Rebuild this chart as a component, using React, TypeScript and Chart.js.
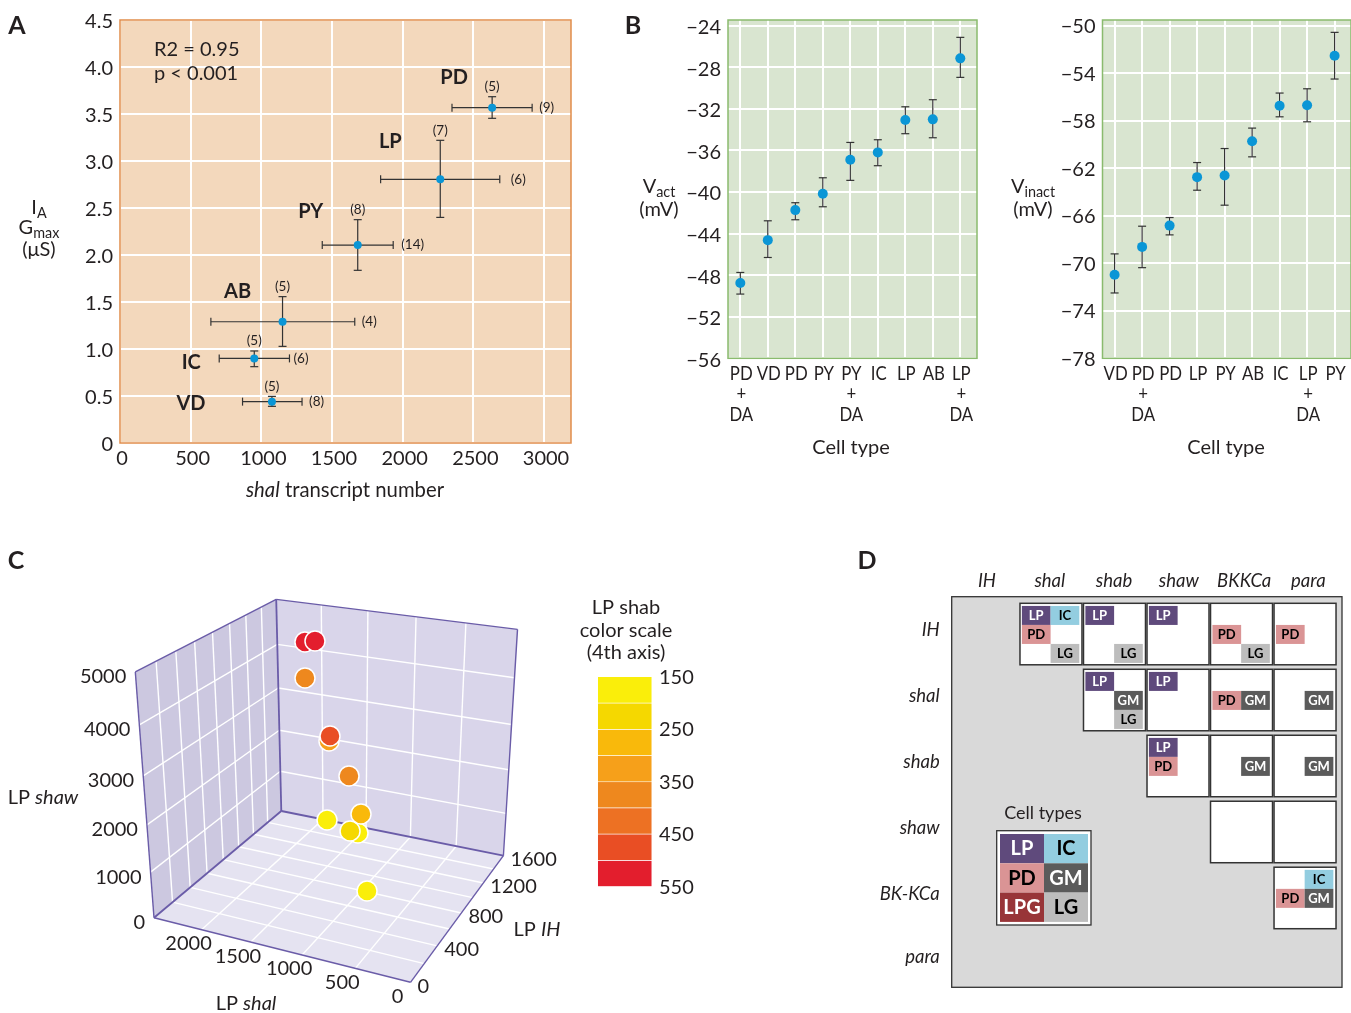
import React, { useEffect, useRef } from 'react';
import Chart from 'chart.js/auto';

const FONT = 'Lato';
const INK = '#231f20';

// panel A
const gmaxNames = ['PD', 'LP', 'PY', 'AB', 'IC', 'VD'];
const shalCount = [2633, 2266, 1682, 1150, 950, 1075];
const shalLow = [2349, 1844, 1431, 643, 702, 867];
const shalHigh = [2916, 2687, 1933, 1661, 1199, 1288];
const gmax = [3.567, 2.805, 2.106, 1.29, 0.9, 0.44];
const gmaxLow = [3.454, 2.4, 1.837, 1.028, 0.812, 0.39];
const gmaxHigh = [3.684, 3.22, 2.376, 1.557, 0.979, 0.496];
const nGmax = ['(5)', '(7)', '(8)', '(5)', '(5)', '(5)'];
const nShal = ['(9)', '(6)', '(14)', '(4)', '(6)', '(8)'];
const shalTicks = [0, 500, 1000, 1500, 2000, 2500, 3000];
const gmaxTicks = [0, 0.5, 1, 1.5, 2, 2.5, 3, 3.5, 4, 4.5];

// panel B
const vactCells = [['PD', '+', 'DA'], ['VD'], ['PD'], ['PY'], ['PY', '+', 'DA'], ['IC'], ['LP'], ['AB'], ['LP', '+', 'DA']];
const vact = [-48.76, -44.63, -41.74, -40.17, -36.9, -36.19, -33.08, -33.01, -27.14];
const vactHigh = [-47.74, -42.77, -41.03, -38.63, -35.23, -34.97, -31.8, -31.12, -25.12];
const vactLow = [-49.82, -46.3, -42.67, -41.42, -38.88, -37.47, -34.39, -34.78, -28.97];
const vactTicks = [-56, -52, -48, -44, -40, -36, -32, -28, -24];

const vinactCells = [['VD'], ['PD', '+', 'DA'], ['PD'], ['LP'], ['PY'], ['AB'], ['IC'], ['LP', '+', 'DA'], ['PY']];
const vinact = [-70.96, -68.62, -66.83, -62.75, -62.61, -59.72, -56.74, -56.69, -52.53];
const vinactHigh = [-69.21, -66.88, -66.15, -61.52, -60.34, -58.62, -55.67, -55.31, -50.56];
const vinactLow = [-72.5, -70.37, -67.61, -63.85, -65.11, -61.04, -57.67, -58.09, -54.49];
const vinactTicks = [-78, -74, -70, -66, -62, -58, -54, -50];

// panel C
const lpShal = [2060, 1889, 2065, 1567, 1556, 1243, 1259, 1344, 1228, 1833, 832];
const lpIH = [1440, 1360, 1440, 1120, 1120, 960, 1120, 1120, 1120, 1440, 640];
const lpShaw = [4325, 4468, 3531, 2662, 2774, 2219, 703, 711, 1155, 290, 343];
const lpShab = [525, 525, 375, 325, 475, 375, 175, 225, 275, 160, 170];
const shalGrid = [500, 1000, 1500, 2000];
const ihGrid = [200, 400, 600, 800, 1000, 1200, 1400];
const shawGrid = [1000, 2000, 3000, 4000];
const shalLabels = [0, 500, 1000, 1500, 2000];
const ihLabels = [0, 400, 800, 1200, 1600];
const shawLabels = [0, 1000, 2000, 3000, 4000, 5000];
const shabSteps = [150, 200, 250, 300, 350, 400, 450, 500, 550];
const shabColors = ['#faee0a', '#f5d800', '#f9b90b', '#f6a01a', '#ee881e', '#ed7123', '#e94e24', '#e31e2d'];
const shabTicks = [150, 250, 350, 450, 550];

// panel D
const channelsX = ['IH', 'shal', 'shab', 'shaw', 'BKKCa', 'para'];
const channelsY = ['IH', 'shal', 'shab', 'shaw', 'BK-KCa', 'para'];
const channelXTicks = [0.48, 1.47, 2.48, 3.5, 4.53, 5.54];
const channelYTicks = [0.41, 1.41, 2.4, 3.4, 4.4, 5.36];
const pairBoxes = [
    [1, 0], [2, 0], [3, 0], [4, 0], [5, 0],
    [2, 1], [3, 1], [4, 1], [5, 1],
    [3, 2], [4, 2], [5, 2],
    [4, 3], [5, 3],
    [5, 4],
];
// column, row, slot across, slot down, cell type
const pairTags: [number, number, number, number, string][] = [
    [1, 0, 0, 0, 'LP'], [1, 0, 1, 0, 'IC'], [1, 0, 0, 1, 'PD'], [1, 0, 1, 2, 'LG'],
    [2, 0, 0, 0, 'LP'], [2, 0, 1, 2, 'LG'],
    [3, 0, 0, 0, 'LP'],
    [4, 0, 0, 1, 'PD'], [4, 0, 1, 2, 'LG'],
    [5, 0, 0, 1, 'PD'],
    [2, 1, 0, 0, 'LP'], [2, 1, 1, 1, 'GM'], [2, 1, 1, 2, 'LG'],
    [3, 1, 0, 0, 'LP'],
    [4, 1, 0, 1, 'PD'], [4, 1, 1, 1, 'GM'],
    [5, 1, 1, 1, 'GM'],
    [3, 2, 0, 0, 'LP'], [3, 2, 0, 1, 'PD'],
    [4, 2, 1, 1, 'GM'],
    [5, 2, 1, 1, 'GM'],
    [5, 4, 1, 0, 'IC'], [5, 4, 0, 1, 'PD'], [5, 4, 1, 1, 'GM'],
];
const legendTypes = [['LP', 'IC'], ['PD', 'GM'], ['LPG', 'LG']];
const typeFill: Record<string, string> = { LP: '#5f4a7c', IC: '#93cde0', PD: '#da9495', GM: '#5b5b5b', LPG: '#983538', LG: '#bdbdbd' };
const typeInk: Record<string, string> = { LP: '#fff', IC: '#000', PD: '#000', GM: '#fff', LPG: '#fff', LG: '#000' };

type Run = { t: string; italic?: boolean; bold?: boolean; sub?: boolean };

// mixed italic / subscript labels, which the axis titles of the library cannot do
function drawRuns(ctx: CanvasRenderingContext2D, runs: Run[], x: number, y: number, size: number, align = 'center', color = INK) {
    const fontOf = (r: Run) => `${r.italic ? 'italic ' : ''}${r.bold ? '700 ' : ''}${r.sub ? size * 0.72 : size}px ${FONT}`;
    let total = 0;
    runs.forEach((r) => {
        ctx.font = fontOf(r);
        total += ctx.measureText(r.t).width;
    });
    let cx = align === 'center' ? x - total / 2 : align === 'right' ? x - total : x;
    ctx.textAlign = 'left';
    ctx.textBaseline = 'middle';
    ctx.fillStyle = color;
    runs.forEach((r) => {
        ctx.font = fontOf(r);
        ctx.fillText(r.t, cx, (r.sub ? y + size * 0.28 : y) + 1);
        cx += ctx.measureText(r.t).width;
    });
}

// draw in page coordinates, whatever canvas the panel sits on
const pageLabels = (left: number, top: number, draw: (ctx: CanvasRenderingContext2D) => void) => ({
    id: 'pageLabels',
    afterDraw(chart: any) {
        const { ctx } = chart;
        ctx.save();
        ctx.translate(-left, -top);
        draw(ctx);
        ctx.restore();
    },
});

const plotFrame = (fill: string, stroke: string) => ({
    id: 'plotFrame',
    beforeDraw(chart: any) {
        const { ctx, chartArea: a } = chart;
        ctx.fillStyle = fill;
        ctx.fillRect(a.left, a.top, a.width, a.height);
    },
    beforeDatasetsDraw(chart: any) {
        const { ctx, chartArea: a } = chart;
        ctx.strokeStyle = stroke;
        ctx.lineWidth = 1.5;
        ctx.strokeRect(a.left, a.top, a.width, a.height);
    },
});

const errorBars = (xs: number[], ys: number[], yLow: number[], yHigh: number[], xLow?: number[], xHigh?: number[]) => ({
    id: 'errorBars',
    beforeDatasetsDraw(chart: any) {
        const { ctx, scales } = chart;
        const sx = (v: number) => scales.x.getPixelForValue(v);
        const sy = (v: number) => scales.y.getPixelForValue(v);
        ctx.strokeStyle = '#333';
        ctx.lineWidth = 1.2;
        const seg = (a: number, b: number, c: number, d: number) => {
            ctx.beginPath();
            ctx.moveTo(a, b);
            ctx.lineTo(c, d);
            ctx.stroke();
        };
        xs.forEach((x, i) => {
            seg(sx(x), sy(yLow[i]), sx(x), sy(yHigh[i]));
            seg(sx(x) - 4, sy(yLow[i]), sx(x) + 4, sy(yLow[i]));
            seg(sx(x) - 4, sy(yHigh[i]), sx(x) + 4, sy(yHigh[i]));
            if (xLow && xHigh) {
                seg(sx(xLow[i]), sy(ys[i]), sx(xHigh[i]), sy(ys[i]));
                seg(sx(xLow[i]), sy(ys[i]) - 4, sx(xLow[i]), sy(ys[i]) + 4);
                seg(sx(xHigh[i]), sy(ys[i]) - 4, sx(xHigh[i]), sy(ys[i]) + 4);
            }
        });
    },
});

// the cell names under panel B are set condensed in the figure, no installed font does that
const condensedCells = (cells: string[][]) => ({
    id: 'condensedCells',
    afterDraw(chart: any) {
        const { ctx, scales, chartArea } = chart;
        ctx.save();
        ctx.font = `20px ${FONT}`;
        ctx.fillStyle = INK;
        ctx.textAlign = 'center';
        ctx.textBaseline = 'middle';
        cells.forEach((lines, i) => {
            lines.forEach((line, n) => {
                ctx.save();
                ctx.translate(scales.x.getPixelForValue(i) + 1, chartArea.bottom + 15 + n * 20.5);
                ctx.scale(0.84, 1);
                ctx.fillText(line, 0, 0);
                ctx.restore();
            });
        });
        ctx.restore();
    },
});

const axisFont = { family: FONT, size: 20 };

function scatterScales(o: any) {
    const grid = { color: '#fff', lineWidth: 2, drawTicks: false };
    return {
        x: {
            type: 'linear', min: o.xMin, max: o.xMax, grid, border: { display: false },
            afterFit: (s: any) => { s.height = o.xHeight; },
            afterBuildTicks: (s: any) => { s.ticks = o.xTicks.map((value: number) => ({ value })); },
            ticks: { display: o.xShow, font: axisFont, color: INK, padding: o.xPad, labelOffset: o.xShift, maxRotation: 0, autoSkip: false, callback: o.xLabel },
        },
        y: {
            type: 'linear', min: o.yMin, max: o.yMax, grid, border: { display: false },
            afterFit: (s: any) => { s.width = o.yWidth; },
            afterBuildTicks: (s: any) => { s.ticks = o.yTicks.map((value: number) => ({ value })); },
            ticks: { font: axisFont, color: INK, padding: 7, labelOffset: o.yShift, autoSkip: false, callback: o.yLabel },
        },
    };
}

const basePlugins = { legend: { display: false }, tooltip: { enabled: false } };
const minusLabel = (v: number) => `\u2212${Math.abs(v)}`;

const panelA = {
    type: 'scatter',
    data: { datasets: [{ data: shalCount.map((x, i) => ({ x, y: gmax[i] })), backgroundColor: '#0a96d6', borderWidth: 0, pointRadius: 4 }] },
    options: {
        animation: false, responsive: false,
        layout: { autoPadding: false, padding: { top: 20, right: 29 } },
        plugins: basePlugins,
        scales: scatterScales({
            xMin: 0, xMax: 3191, xTicks: shalTicks, xHeight: 67, xPad: 4, xShift: 2, xShow: true, xLabel: (v: number) => `${v}`,
            yMin: 0, yMax: 4.5, yTicks: gmaxTicks, yWidth: 120, yShift: 2, yLabel: (v: number) => (v === 0 ? '0' : v.toFixed(1)),
        }),
    },
    plugins: [
        plotFrame('#f3d8bc', '#e18d4b'),
        errorBars(shalCount, gmax, gmaxLow, gmaxHigh, shalLow, shalHigh),
        pageLabels(0, 0, (ctx) => {
            drawRuns(ctx, [{ t: 'A', bold: true }], 17, 25, 25);
            drawRuns(ctx, [{ t: 'R2 = 0.95' }], 154, 49, 20, 'left');
            drawRuns(ctx, [{ t: 'p < 0.001' }], 154, 73, 20, 'left');
            drawRuns(ctx, [{ t: 'I' }, { t: 'A', sub: true }], 39, 207, 20);
            drawRuns(ctx, [{ t: 'G' }, { t: 'max', sub: true }], 39, 227, 20);
            drawRuns(ctx, [{ t: '(\u03bcS)' }], 39, 249, 20);
            drawRuns(ctx, [{ t: 'shal', italic: true }, { t: ' transcript number' }], 345, 489, 20.3);
        }),
        {
            id: 'pointNotes',
            afterDraw(chart: any) {
                const { ctx, scales } = chart;
                const nameDx = [-38, -50, -47, -45, -63, -81];
                const nameDy = [-31, -39, -34, -31, 3, 1];
                const gap = [7, 11, 8, 7, 4, 7];
                gmaxNames.forEach((name, i) => {
                    const px = scales.x.getPixelForValue(shalCount[i]);
                    const py = scales.y.getPixelForValue(gmax[i]);
                    drawRuns(ctx, [{ t: name, bold: true }], px + nameDx[i], py + nameDy[i], 20);
                    drawRuns(ctx, [{ t: nGmax[i] }], px, scales.y.getPixelForValue(gmaxHigh[i]) - 11, 13.5);
                    drawRuns(ctx, [{ t: nShal[i] }], scales.x.getPixelForValue(shalHigh[i]) + gap[i], py - 1, 13.5, 'left');
                });
            },
        },
    ],
};

const voltagePanel = (o: any) => ({
    type: 'scatter',
    data: { datasets: [{ data: o.values.map((y: number, x: number) => ({ x, y })), backgroundColor: '#0a96d6', borderWidth: 0, pointRadius: 5 }] },
    options: {
        animation: false, responsive: false,
        layout: { autoPadding: false, padding: { top: 20, right: o.right } },
        plugins: basePlugins,
        scales: scatterScales({
            xMin: o.xMin, xMax: o.xMax, xTicks: o.values.map((_: number, i: number) => i), xHeight: 111.7, xPad: 5, xShift: 0, xShow: false,
            yMin: o.yMin, yMax: o.yMax, yTicks: o.ticks, yWidth: o.yWidth, yShift: o.yShift, yLabel: minusLabel,
        }),
    },
    plugins: [
        plotFrame('#d9e5d0', '#8abb6e'),
        errorBars(o.values.map((_: number, i: number) => i), o.values, o.low, o.high),
        condensedCells(o.cells),
        pageLabels(o.left, 0, o.labels),
    ],
});

const panelB1 = voltagePanel({
    left: 620, right: 13, xMin: -0.447, xMax: 8.607, yMin: -56, yMax: -23.45, yWidth: 108, yShift: 2,
    values: vact, low: vactLow, high: vactHigh, ticks: vactTicks, cells: vactCells,
    labels: (ctx: CanvasRenderingContext2D) => {
        drawRuns(ctx, [{ t: 'B', bold: true }], 633, 25, 25);
        drawRuns(ctx, [{ t: 'V' }, { t: 'act', sub: true }], 659, 186, 20);
        drawRuns(ctx, [{ t: '(mV)' }], 659, 209, 20);
        drawRuns(ctx, [{ t: 'Cell type' }], 851, 447, 20);
    },
});

const panelB2 = voltagePanel({
    left: 990, right: 0, xMin: -0.44, xMax: 8.596, yMin: -78, yMax: -49.52, yWidth: 112.5, yShift: 1,
    values: vinact, low: vinactLow, high: vinactHigh, ticks: vinactTicks, cells: vinactCells,
    labels: (ctx: CanvasRenderingContext2D) => {
        drawRuns(ctx, [{ t: 'V' }, { t: 'inact', sub: true }], 1033, 186, 20);
        drawRuns(ctx, [{ t: '(mV)' }], 1033, 209, 20);
        drawRuns(ctx, [{ t: 'Cell type' }], 1226, 447, 20);
    },
});

// perspective of the 3D box, fitted to the box corners in the picture
function project(shal: number, ih: number, shaw: number) {
    const u = shal / 2500;
    const v = ih / 1600;
    const h = shaw / 5000;
    const w = 0.09807 * u + 0.2111 * v - 0.0984 * h + 1;
    return {
        x: (-241.4 * u + 199.17 * v - 33.84 * h + 410.5) / w,
        y: (25.4 * u + 54.03 * v - 336 * h + 982.3) / w,
    };
}

const shabColor = (v: number) => shabColors[shabSteps.findIndex((s, i) => v >= s && v < shabSteps[i + 1])];

const panelC = {
    type: 'scatter',
    data: {
        datasets: [{
            data: lpShal.map((s, i) => project(s, lpIH[i], lpShaw[i])),
            backgroundColor: lpShab.map(shabColor),
            borderColor: '#fff', borderWidth: 1.5, pointRadius: 10,
        }],
    },
    options: {
        animation: false, responsive: false, clip: false,
        layout: { autoPadding: false },
        plugins: basePlugins,
        scales: {
            x: { type: 'linear', min: 0, max: 560, display: false },
            y: { type: 'linear', min: 540, max: 1013, reverse: true, display: false },
        },
    },
    plugins: [
        {
            id: 'box3d',
            beforeDatasetsDraw(chart: any) {
                const { ctx, scales } = chart;
                const at = (s: number, i: number, z: number) => {
                    const p = project(s, i, z);
                    return [scales.x.getPixelForValue(p.x), scales.y.getPixelForValue(p.y)];
                };
                const poly = (pts: number[][], fill: string) => {
                    ctx.beginPath();
                    pts.forEach((p, i) => (i ? ctx.lineTo(p[0], p[1]) : ctx.moveTo(p[0], p[1])));
                    ctx.closePath();
                    ctx.fillStyle = fill;
                    ctx.fill();
                };
                const line = (a: number[], b: number[], color: string, width: number) => {
                    ctx.beginPath();
                    ctx.moveTo(a[0], a[1]);
                    ctx.lineTo(b[0], b[1]);
                    ctx.strokeStyle = color;
                    ctx.lineWidth = width;
                    ctx.stroke();
                };
                const S = 2500, I = 1600, Z = 5000;
                poly([at(S, 0, 0), at(S, I, 0), at(S, I, Z), at(S, 0, Z)], '#ccc8e0');
                poly([at(S, I, 0), at(0, I, 0), at(0, I, Z), at(S, I, Z)], '#d9d5ea');
                poly([at(0, 0, 0), at(S, 0, 0), at(S, I, 0), at(0, I, 0)], '#e5e3f1');
                const white = '#fff';
                shawGrid.forEach((z) => {
                    line(at(S, 0, z), at(S, I, z), white, 1.4);
                    line(at(S, I, z), at(0, I, z), white, 1.4);
                });
                ihGrid.forEach((i) => {
                    line(at(S, i, 0), at(S, i, Z), white, 1.4);
                    line(at(S, i, 0), at(0, i, 0), white, 1.4);
                });
                shalGrid.forEach((s) => {
                    line(at(s, I, 0), at(s, I, Z), white, 1.4);
                    line(at(s, 0, 0), at(s, I, 0), white, 1.4);
                });
                const edge = '#6a5ca8';
                line(at(S, 0, 0), at(S, 0, Z), edge, 1.4);
                line(at(S, 0, Z), at(S, I, Z), edge, 1.4);
                line(at(S, I, Z), at(0, I, Z), edge, 1.4);
                line(at(0, I, Z), at(0, I, 0), edge, 1.4);
                line(at(S, I, Z), at(S, I, 0), edge, 1.8);
                line(at(S, 0, 0), at(S, I, 0), edge, 1.8);
                line(at(S, I, 0), at(0, I, 0), edge, 1.8);
                line(at(S, 0, 0), at(0, 0, 0), edge, 1.4);
                line(at(0, 0, 0), at(0, I, 0), edge, 1.4);
            },
        },
        pageLabels(0, 540, (ctx) => {
            drawRuns(ctx, [{ t: 'C', bold: true }], 16, 560, 25);
            shawLabels.forEach((z) => {
                const p = project(2500, 0, z);
                drawRuns(ctx, [{ t: `${z}` }], p.x - 9, p.y + 4, 20, 'right');
            });
            shalLabels.forEach((s) => {
                const p = project(s, 0, 0);
                drawRuns(ctx, [{ t: `${s}` }], p.x - 13, p.y + 13, 20);
            });
            ihLabels.forEach((i) => {
                const p = project(0, i, 0);
                drawRuns(ctx, [{ t: `${i}` }], p.x + 7, p.y + 3, 20, 'left');
            });
            drawRuns(ctx, [{ t: 'LP ' }, { t: 'shaw', italic: true }], 43, 797, 20);
            drawRuns(ctx, [{ t: 'LP ' }, { t: 'shal', italic: true }], 246, 1003, 20);
            drawRuns(ctx, [{ t: 'LP ' }, { t: 'IH', italic: true }], 537, 929, 20);
        }),
    ],
};

const colorBar = {
    type: 'bar',
    data: {
        labels: ['shab'],
        datasets: shabColors.map((backgroundColor, i) => ({
            data: [[shabSteps[i], shabSteps[i + 1]]],
            backgroundColor,
            borderColor: '#fff',
            borderWidth: 0.8,
        })),
    },
    options: {
        animation: false, responsive: false,
        layout: { autoPadding: false, padding: { top: 87, bottom: 13.3, left: 37.5, right: 0 } },
        datasets: { bar: { grouped: false, barPercentage: 1, categoryPercentage: 1 } },
        plugins: basePlugins,
        scales: {
            x: { display: false },
            y: {
                type: 'linear', position: 'right', reverse: true, min: 150, max: 550,
                grid: { display: false, drawTicks: false }, border: { display: false },
                afterFit: (s: any) => { s.width = 58; s.paddingBottom = 0; s.paddingTop = 0; },
                afterBuildTicks: (s: any) => { s.ticks = shabTicks.map((value) => ({ value })); },
                ticks: { font: axisFont, color: INK, padding: 7, labelOffset: 0.5, autoSkip: false },
            },
        },
    },
    plugins: [
        pageLabels(560, 590, (ctx) => {
            drawRuns(ctx, [{ t: 'LP shab' }], 626, 607, 20);
            drawRuns(ctx, [{ t: 'color scale' }], 626, 630, 20);
            drawRuns(ctx, [{ t: '(4th axis)' }], 626, 652, 20);
        }),
    ],
};

const panelD = {
    type: 'scatter',
    data: { datasets: [{ data: pairTags.map((t) => ({ x: t[0] + t[2] / 2, y: t[1] + t[3] / 3 })), pointRadius: 0 }] },
    options: {
        animation: false, responsive: false,
        layout: { autoPadding: false, padding: { right: 9, bottom: 12.7 } },
        plugins: basePlugins,
        scales: {
            x: {
                type: 'linear', position: 'top', min: -0.075, max: 6.07,
                grid: { display: false, drawTicks: false }, border: { display: false },
                afterFit: (s: any) => { s.height = 46.7; },
                afterBuildTicks: (s: any) => { s.ticks = channelXTicks.map((value) => ({ value })); },
                ticks: {
                    font: { family: FONT, size: 18.5, style: 'italic' }, color: INK, padding: 5, maxRotation: 0, autoSkip: false,
                    callback: (v: number) => channelsX[channelXTicks.indexOf(v)],
                },
            },
            y: {
                type: 'linear', reverse: true, min: -0.1, max: 5.82,
                grid: { display: false, drawTicks: false }, border: { display: false },
                afterFit: (s: any) => { s.width = 101.7; s.paddingBottom = 0; s.paddingTop = 0; },
                afterBuildTicks: (s: any) => { s.ticks = channelYTicks.map((value) => ({ value })); },
                ticks: {
                    font: { family: FONT, size: 18.5, style: 'italic' }, color: INK, padding: 12, autoSkip: false,
                    callback: (v: number) => channelsY[channelYTicks.indexOf(v)],
                },
            },
        },
    },
    plugins: [
        {
            id: 'pairMatrix',
            beforeDatasetsDraw(chart: any) {
                const { ctx, chartArea: a, scales } = chart;
                const sx = (v: number) => scales.x.getPixelForValue(v);
                const sy = (v: number) => scales.y.getPixelForValue(v);
                ctx.fillStyle = '#d9d9d9';
                ctx.fillRect(a.left, a.top, a.width, a.height);
                ctx.strokeStyle = '#333';
                ctx.lineWidth = 1.3;
                ctx.strokeRect(a.left, a.top, a.width, a.height);
                pairBoxes.forEach(([col, row]) => {
                    const l = sx(col);
                    const t = sy(row);
                    const w = sx(col + 0.976) - l;
                    const h = sy(row + 0.932) - t;
                    ctx.fillStyle = '#fff';
                    ctx.fillRect(l, t, w, h);
                    ctx.strokeStyle = '#333';
                    ctx.lineWidth = 1.5;
                    ctx.strokeRect(l, t, w, h);
                });
                pairTags.forEach(([col, row, across, down, type]) => {
                    const l = sx(col + 0.03 + across * 0.452);
                    const t = sy(row + 0.04 + down * 0.288);
                    const w = sx(col + 0.03 + (across + 1) * 0.452) - l;
                    const h = sy(row + 0.04 + (down + 1) * 0.288) - t;
                    ctx.fillStyle = typeFill[type];
                    ctx.fillRect(l, t, w, h);
                    drawRuns(ctx, [{ t: type, bold: true }], l + w / 2, t + h / 2 - 1, 13, 'center', typeInk[type]);
                });
            },
        },
        pageLabels(850, 550, (ctx) => {
            drawRuns(ctx, [{ t: 'D', bold: true }], 867, 560, 25);
            drawRuns(ctx, [{ t: 'Cell types' }], 1043, 812, 18);
            ctx.fillStyle = '#fff';
            ctx.strokeStyle = '#333';
            ctx.lineWidth = 1.3;
            ctx.fillRect(996.7, 830.7, 94.3, 94.3);
            ctx.strokeRect(996.7, 830.7, 94.3, 94.3);
            legendTypes.forEach((pair, r) => {
                pair.forEach((type, c) => {
                    const l = 1000 + c * 44;
                    const t = 834 + r * 29.3;
                    ctx.fillStyle = typeFill[type];
                    ctx.fillRect(l, t, 44, 29.3);
                    drawRuns(ctx, [{ t: type, bold: true }], l + 22, t + 14, 20, 'center', typeInk[type]);
                });
            });
        }),
    ],
};

function Panel({ config, left, top, width, height }: any) {
    const ref = useRef<HTMLCanvasElement>(null);

    useEffect(() => {
        const chart = ref.current ? new Chart(ref.current, config) : null;
        return () => {
            chart?.destroy();
        };
    }, [config]);

    return <canvas ref={ref} width={width} height={height} style={{ position: 'absolute', left, top, width, height }} />;
}

export default function App() {
    return (
        <div style={{ position: 'absolute', left: 0, top: 0, width: 1351, height: 1013, overflow: 'hidden', background: '#fff' }}>
            <Panel config={panelA} left={0} top={0} width={600} height={510} />
            <Panel config={panelB1} left={620} top={0} width={370} height={470} />
            <Panel config={panelB2} left={990} top={0} width={361} height={470} />
            <Panel config={panelC} left={0} top={540} width={560} height={473} />
            <Panel config={colorBar} left={560} top={590} width={150} height={310} />
            <Panel config={panelD} left={850} top={550} width={501} height={450} />
        </div>
    );
}
